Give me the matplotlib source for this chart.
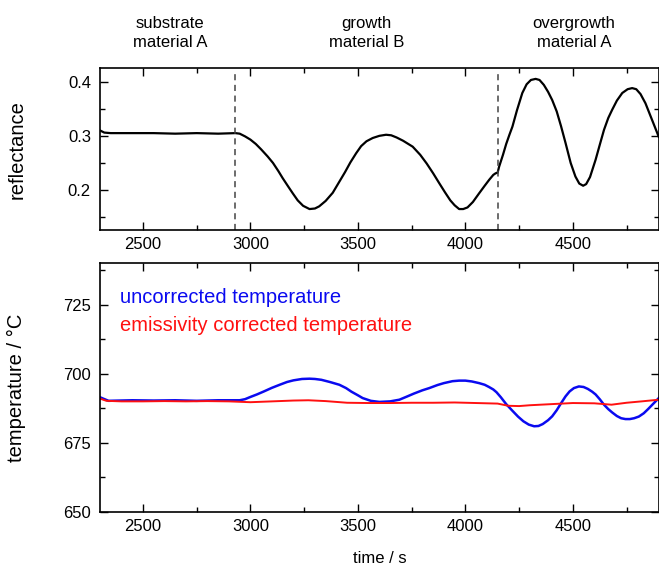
import matplotlib
matplotlib.use("Agg")
import matplotlib.pyplot as plt
from matplotlib.ticker import MultipleLocator

plt.rcParams["font.family"] = ["Liberation Sans", "DejaVu Sans"]

# reflectance trace (time / s, reflectance)
refl_t = [2300, 2320, 2350, 2450, 2550, 2650, 2750, 2850, 2930, 2950, 2975,
          3000, 3025, 3050, 3080, 3105, 3130, 3150, 3175, 3197, 3220, 3245,
          3275, 3300, 3320, 3350, 3383, 3410, 3440, 3465, 3492, 3515, 3540,
          3569, 3600, 3631, 3655, 3680, 3710, 3755, 3790, 3820, 3850, 3878,
          3905, 3930, 3950, 3971, 3990, 4010, 4035, 4064, 4090, 4111, 4130,
          4141, 4150, 4157, 4175, 4190, 4205, 4219, 4240, 4265, 4285, 4305,
          4327, 4345, 4365, 4385, 4404, 4425, 4445, 4466, 4490, 4512, 4530,
          4548, 4562, 4580, 4606, 4625, 4645, 4665, 4683, 4705, 4730, 4755,
          4776, 4795, 4815, 4838, 4860, 4880, 4900]
refl_v = [0.310, 0.306, 0.305, 0.305, 0.305, 0.304, 0.305, 0.304, 0.305, 0.304, 0.299,
          0.293, 0.285, 0.275, 0.262, 0.250, 0.235, 0.222, 0.207, 0.194, 0.181, 0.171,
          0.165, 0.166, 0.170, 0.180, 0.195, 0.213, 0.233, 0.251, 0.268, 0.281, 0.290,
          0.296, 0.300, 0.302, 0.301, 0.297, 0.291, 0.280, 0.265, 0.249, 0.231, 0.213,
          0.196, 0.181, 0.172, 0.165, 0.165, 0.168, 0.178, 0.194, 0.208, 0.219, 0.228,
          0.231, 0.232, 0.243, 0.265, 0.285, 0.302, 0.317, 0.347, 0.379, 0.395, 0.403,
          0.405, 0.403, 0.394, 0.381, 0.366, 0.345, 0.318, 0.287, 0.250, 0.225, 0.212,
          0.208, 0.211, 0.224, 0.256, 0.283, 0.311, 0.333, 0.348, 0.365, 0.379, 0.386,
          0.388, 0.386, 0.377, 0.360, 0.338, 0.318, 0.298]

# uncorrected pyrometer temperature
raw_t = [2300, 2315, 2340, 2450, 2550, 2650, 2750, 2850, 2950, 2975, 3000,
         3030, 3060, 3100, 3136, 3170, 3200, 3240, 3275, 3300, 3330, 3370,
         3414, 3445, 3470, 3500, 3522, 3560, 3600, 3650, 3693, 3730, 3760,
         3800, 3832, 3870, 3900, 3940, 3971, 4000, 4030, 4064, 4090, 4110,
         4130, 4145, 4165, 4190, 4219, 4245, 4270, 4295, 4320, 4340, 4360,
         4385, 4404, 4425, 4445, 4466, 4485, 4505, 4528, 4550, 4570, 4590,
         4606, 4625, 4645, 4665, 4683, 4705, 4725, 4745, 4765, 4785, 4807,
         4830, 4850, 4875, 4900]
raw_v = [691.5, 691.0, 690.2, 690.4, 690.3, 690.4, 690.2, 690.4, 690.4, 690.8, 691.6,
         692.5, 693.5, 694.9, 696.0, 697.0, 697.6, 698.1, 698.2, 698.1, 697.8, 697.0,
         696.0, 694.8, 693.5, 692.2, 691.2, 690.2, 689.8, 690.0, 690.6, 691.8, 692.8,
         694.0, 694.8, 695.9, 696.6, 697.3, 697.5, 697.5, 697.2, 696.6, 696.0, 695.2,
         694.3, 693.3, 691.5, 689.0, 686.6, 684.5, 682.8, 681.6, 681.0, 681.1, 681.8,
         683.2, 684.6, 686.8, 689.3, 691.8, 693.6, 694.8, 695.4, 695.2, 694.5, 693.5,
         692.5, 690.8, 688.8, 687.2, 686.0, 684.7, 683.9, 683.6, 683.6, 683.9, 684.5,
         685.7, 687.2, 689.2, 691.2]

# emissivity corrected temperature
corr_t = [2300, 2330, 2400, 2500, 2600, 2700, 2800, 2900, 3000, 3100, 3200,
          3270, 3350, 3450, 3550, 3650, 3750, 3850, 3950, 4050, 4150, 4200,
          4250, 4300, 4400, 4500, 4600, 4680, 4750, 4820, 4900]
corr_v = [691.0, 690.2, 690.0, 690.0, 690.1, 690.0, 690.1, 690.0, 689.7, 690.0, 690.3,
          690.4, 690.1, 689.5, 689.4, 689.4, 689.5, 689.5, 689.6, 689.4, 689.2, 688.4,
          688.3, 688.6, 689.0, 689.4, 689.3, 688.8, 689.5, 690.0, 690.6]

interfaces = [2930, 4150]
headers = ["substrate\nmaterial A", "growth\nmaterial B", "overgrowth\nmaterial A"]
header_x = [2625, 3540, 4505]


def style_axis(ax):
    ax.set_xlim(2300, 4900)
    ax.xaxis.set_major_locator(MultipleLocator(500))
    ax.xaxis.set_minor_locator(MultipleLocator(250))
    ax.tick_params(which="both", direction="in", top=True, right=True,
                   labelsize=12, width=1)
    ax.tick_params(which="major", length=6)
    ax.tick_params(which="minor", length=3.5)
    ax.tick_params(axis="y", pad=6.5)
    ax.tick_params(axis="x", pad=5)
    for s in ax.spines.values():
        s.set_linewidth(1.2)


fig = plt.figure(figsize=(6.59, 5.67), dpi=100)
ax1 = fig.add_axes([0.1517, 0.594, 0.848, 0.286])
ax2 = fig.add_axes([0.1517, 0.097, 0.848, 0.439])

ax1.plot(refl_t, refl_v, color="black", lw=1.6)
for x in interfaces:
    ax1.axvline(x, ymax=0.97, color="#444444", lw=1.1, ls=(0, (4, 3)))
ax1.set_ylim(0.126, 0.425)
ax1.yaxis.set_major_locator(MultipleLocator(0.1))
ax1.yaxis.set_minor_locator(MultipleLocator(0.05))
ax1.set_ylabel("reflectance", fontsize=14.5)
ax1.yaxis.set_label_coords(-0.132, 0.5)
style_axis(ax1)

for x, h in zip(header_x, headers):
    ax1.text(x, 1.216, h, transform=ax1.get_xaxis_transform(), ha="center",
             va="center", fontsize=12, linespacing=1.38)

ax2.plot(raw_t, raw_v, color="#0a0af0", lw=1.8)
ax2.plot(corr_t, corr_v, color="#ff1010", lw=1.4)
ax2.set_ylim(650, 740)
ax2.yaxis.set_major_locator(MultipleLocator(25))
ax2.yaxis.set_minor_locator(MultipleLocator(12.5))
ax2.set_ylabel("temperature / \u00b0C", fontsize=14.5)
ax2.yaxis.set_label_coords(-0.132, 0.5)
ax2.set_xlabel("time / s", fontsize=12, labelpad=12)
style_axis(ax2)

ax2.text(0.036, 0.86, "uncorrected temperature", transform=ax2.transAxes,
         color="#0a0af0", fontsize=14.5, va="center")
ax2.text(0.036, 0.75, "emissivity corrected temperature", transform=ax2.transAxes,
         color="#ff1010", fontsize=14.5, va="center")

fig.savefig("out.png", dpi=100)
